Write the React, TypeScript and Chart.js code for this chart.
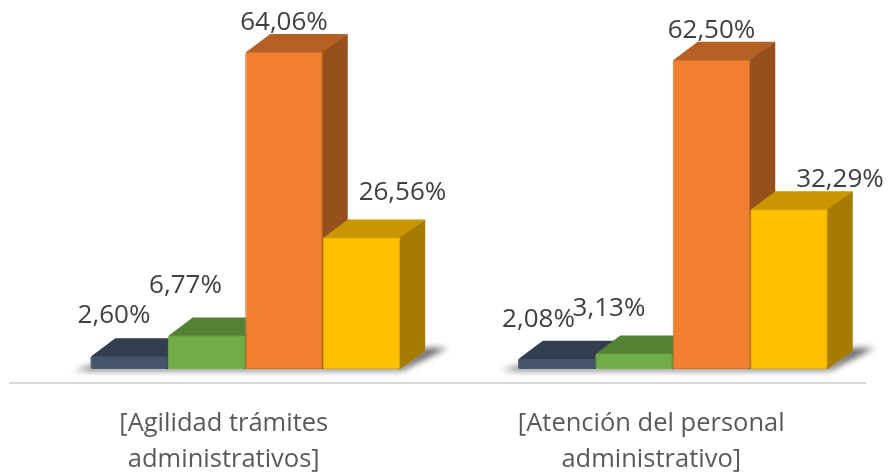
import React, { useEffect, useRef } from "react";
import { Chart, registerables } from "chart.js";

Chart.register(...registerables);

const categories = [
  ["[Agilidad trámites", "administrativos]"],
  ["[Atención del personal", "administrativo]"],
];
const seriesA = [2.6, 2.08];
const seriesB = [6.77, 3.13];
const seriesC = [64.06, 62.5];
const seriesD = [26.56, 32.29];

const frontColors = ["#44546A", "#70AD47", "#F07F30", "#FFC000"];
const borderColors = ["#4A5C75", "#78B451", "#D4702C", "#E6AD00"];
const topColors = ["#333F50", "#548235", "#B45F24", "#C79600"];
const sideColors = ["#2B3543", "#47702D", "#95501E", "#A67C00"];

// Label anchor offsets from each bar's front-top centre: [dx, dy] per series, per group
const labelOffsets = [
  [[-15, -41], [-18, -39]],
  [[-21, -50], [-25, -45]],
  [[0, -29], [0, -29]],
  [[41, -45], [51, -30]],
];

const SHIFT_X = 21.5;
const SHIFT_Y = -14;
const DEPTH_X = 25;
const DEPTH_Y = 18;

const fmt = (v: number) => v.toFixed(2).replace(".", ",") + "%";

const bars3d = {
  id: "bars3d",
  beforeDatasetsDraw(chart: any) {
    const ctx = chart.ctx;
    ctx.save();
    ctx.translate(SHIFT_X, SHIFT_Y);
    // floor shadow per group
    const first = chart.getDatasetMeta(0).data;
    const last = chart.getDatasetMeta(3).data;
    first.forEach((el: any, i: number) => {
      const x0 = el.x - el.width / 2;
      const x1 = last[i].x + last[i].width / 2;
      const b = el.base;
      ctx.save();
      ctx.filter = "blur(3px)";
      ctx.fillStyle = "rgba(50,50,50,0.75)";
      ctx.beginPath();
      ctx.moveTo(x0 - 16, b + 1.5);
      ctx.lineTo(x1 + 2, b + 1.5);
      ctx.lineTo(x1 + DEPTH_X + 22, b - DEPTH_Y - 3);
      ctx.lineTo(x1 + DEPTH_X, b - DEPTH_Y - 3);
      ctx.lineTo(x1, b - 3);
      ctx.lineTo(x0, b - 3);
      ctx.closePath();
      ctx.fill();
      ctx.restore();
    });
    // left-to-right painting so nearer bars occlude the ones behind
    chart.data.datasets.forEach((_: any, k: number) => {
      const meta = chart.getDatasetMeta(k);
      meta.data.forEach((el: any) => {
        const l = el.x - el.width / 2;
        const r = el.x + el.width / 2;
        const t = el.y;
        const b = el.base;
        ctx.fillStyle = sideColors[k];
        ctx.beginPath();
        ctx.moveTo(r - 2, t);
        ctx.lineTo(r + DEPTH_X, t - DEPTH_Y);
        ctx.lineTo(r + DEPTH_X, b - DEPTH_Y);
        ctx.lineTo(r, b);
        ctx.lineTo(r - 2, b);
        ctx.closePath();
        ctx.fill();
        ctx.fillStyle = topColors[k];
        ctx.beginPath();
        ctx.moveTo(l + 1, t + 3);
        ctx.lineTo(l + 1, t);
        ctx.lineTo(l + DEPTH_X, t - DEPTH_Y);
        ctx.lineTo(r + DEPTH_X, t - DEPTH_Y);
        ctx.lineTo(r, t);
        ctx.lineTo(r, t + 3);
        ctx.closePath();
        ctx.fill();
      });
      meta.controller.draw();
    });
  },
  beforeDatasetDraw() {
    return false;
  },
  afterDatasetsDraw(chart: any) {
    const ctx = chart.ctx;
    ctx.restore();
    ctx.save();
    ctx.font = '26px "Open Sans"';
    ctx.fillStyle = "#404040";
    ctx.textAlign = "center";
    ctx.textBaseline = "middle";
    chart.data.datasets.forEach((ds: any, k: number) => {
      chart.getDatasetMeta(k).data.forEach((el: any, i: number) => {
        const [dx, dy] = labelOffsets[k][i];
        ctx.fillText(fmt(ds.data[i]), el.x + SHIFT_X + dx, el.y + SHIFT_Y + dy);
      });
    });
    ctx.restore();
  },
};

export default function App() {
  const ref = useRef<HTMLCanvasElement>(null);
  useEffect(() => {
    const all = [seriesA, seriesB, seriesC, seriesD];
    const chart = new Chart(ref.current as HTMLCanvasElement, {
      type: "bar",
      data: {
        labels: categories as any,
        datasets: all.map((data, k) => ({
          data,
          clip: false as any,
          backgroundColor: frontColors[k],
          borderColor: borderColors[k],
          borderWidth: 1,
          borderRadius: 2,
          borderSkipped: false,
          barPercentage: 1,
          categoryPercentage: 0.725,
        })),
      },
      options: {
        responsive: false,
        animation: false,
        layout: { padding: { left: 10, right: 23, top: 0, bottom: 0 } },
        plugins: { legend: { display: false }, tooltip: { enabled: false } },
        scales: {
          x: {
            afterFit(scale: any) {
              scale.height = 90;
            },
            grid: { display: false, drawTicks: false },
            border: { display: true, color: "#D9D9D9", width: 2 },
            ticks: {
              padding: 22,
              color: "#595959",
              maxRotation: 0,
              autoSkip: false,
              font: { family: "Open Sans", size: 25.5, lineHeight: 1.44 },
            },
          },
          y: { display: false, min: 0, max: 77.4 },
        },
      },
      plugins: [bars3d],
    });
    return () => chart.destroy();
  }, []);
  return (
    <div style={{ position: "fixed", left: 0, top: 0, width: 888, height: 473, background: "#fff" }}>
      <canvas ref={ref} width={888} height={473} style={{ display: "block" }} />
    </div>
  );
}
